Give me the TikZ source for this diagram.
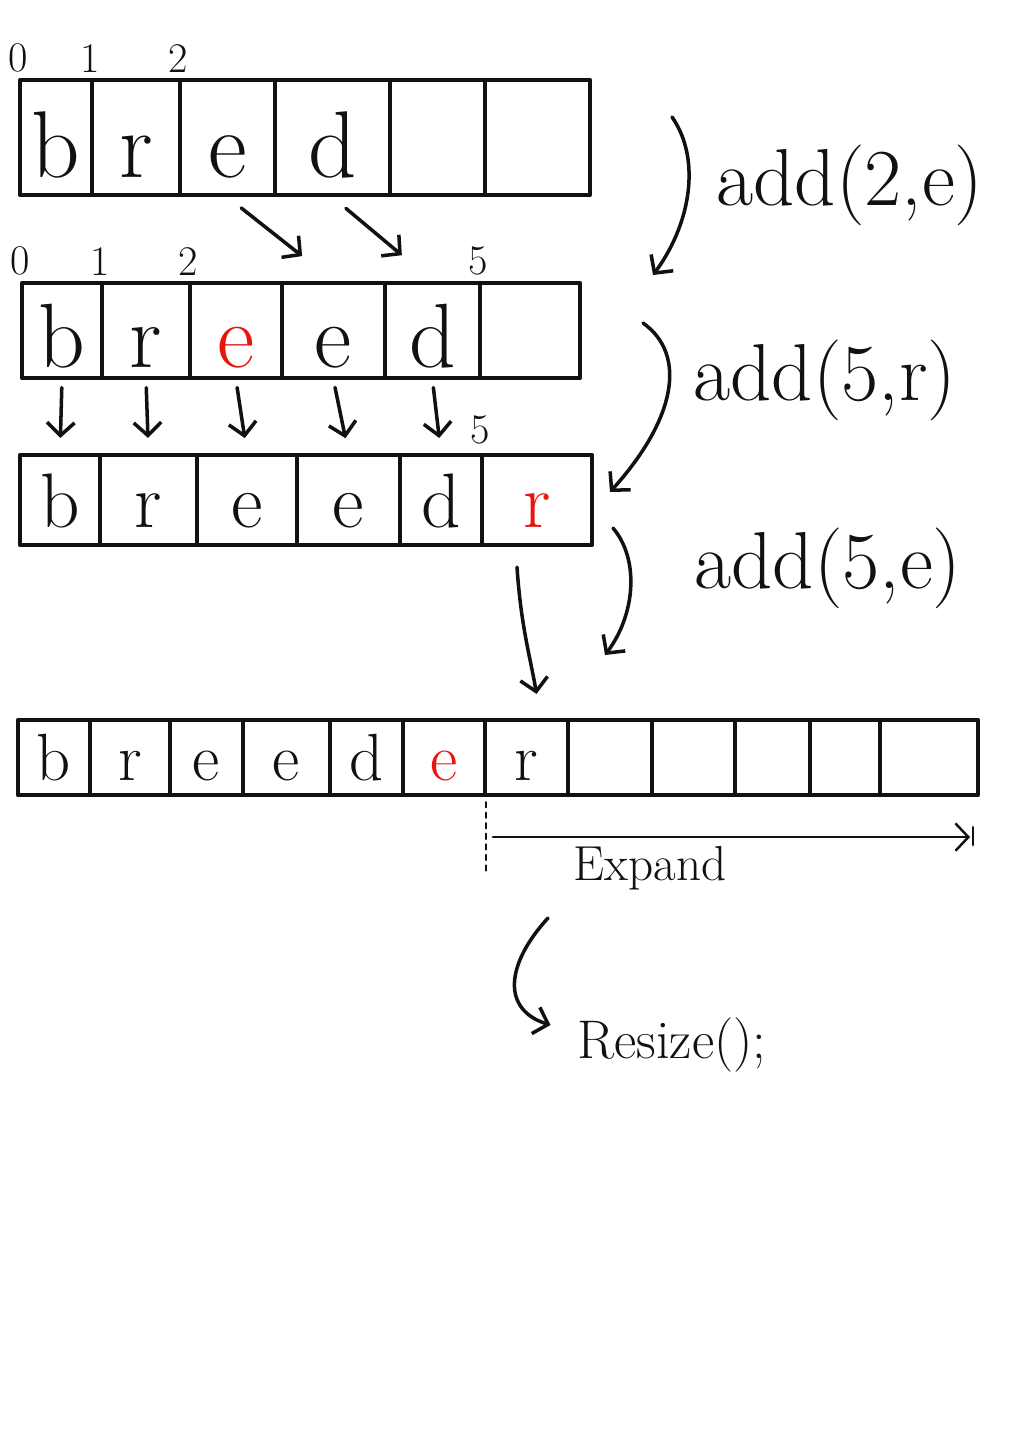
\documentclass[tikz,border=0pt]{standalone}
\usepackage{fontspec}
\usetikzlibrary{calc,positioning,arrows.meta}
\definecolor{papel}{HTML}{FFFFFF}
\definecolor{tinta}{HTML}{111111}
\definecolor{vermelho}{HTML}{E8150E}

\begin{document}
\begin{tikzpicture}[x=0.02cm,y=-0.02cm, line cap=round, line join=round,
    cel/.style={draw=tinta, line width=2.4pt, inner sep=0pt, text=tinta, text depth=0pt},
    lin1/.style={cel, minimum height=2.3cm, text height=1.6cm, font=\fontsize{54}{56}\selectfont},
    lin2/.style={cel, minimum height=1.9cm, text height=1.5cm, font=\fontsize{52}{54}\selectfont},
    lin3/.style={cel, minimum height=1.8cm, text height=1.1cm, font=\fontsize{44}{46}\selectfont},
    lin4/.style={cel, minimum height=1.5cm, text height=0.92cm, font=\fontsize{38}{40}\selectfont},
    novo/.style={text=vermelho},
    idx/.style={font=\fontsize{24}{26}\selectfont, text=tinta, inner sep=1pt},
    op/.style={font=\fontsize{46}{48}\selectfont, text=tinta, inner sep=1pt},
    nota/.style={font=\fontsize{28}{30}\selectfont, text=tinta, inner sep=1pt},
    ar/.style={-{Straight Barb[length=2.6mm,width=5.5mm]}, line width=2pt, tinta}]
  \fill[papel] (0,0) rectangle (1019,1440);
  \useasboundingbox (0,0) rectangle (1019,1440);
  % bred
  \node[lin1, minimum width=1.44cm] (a1c0) at (56,137.5) {b};
  \node[lin1, minimum width=1.76cm] (a1c1) at (136,137.5) {r};
  \node[lin1, minimum width=1.90cm] (a1c2) at (227.5,137.5) {e};
  \node[lin1, minimum width=2.30cm] (a1c3) at (332.5,137.5) {d};
  \node[lin1, minimum width=1.90cm] (a1c4) at (437.5,137.5) {};
  \node[lin1, minimum width=2.10cm] (a1c5) at (537.5,137.5) {};
  \node[idx, above=2pt of a1c0.north west] (i10) {0};
  \node[idx, above=2pt of a1c1.north west] (i11) {1};
  \node[idx, above=2pt of a1c2.north west] (i12) {2};
  % breed
  \node[lin2, minimum width=1.60cm] (a2c0) at (62,330.5) {b};
  \node[lin2, minimum width=1.76cm] (a2c1) at (146,330.5) {r};
  \node[lin2, novo, minimum width=1.84cm] (a2c2) at (236,330.5) {e};
  \node[lin2, minimum width=2.06cm] (a2c3) at (333.5,330.5) {e};
  \node[lin2, minimum width=1.90cm] (a2c4) at (432.5,330.5) {d};
  \node[lin2, minimum width=2.00cm] (a2c5) at (530,330.5) {};
  \node[idx, above=2pt of a2c0.north west] (i20) {0};
  \node[idx, above=2pt of a2c1.north west] (i21) {1};
  \node[idx, above=2pt of a2c2.north west] (i22) {2};
  \node[idx, above=2pt of a2c5.north west] (i25) {5};
  % breedr
  \node[lin3, minimum width=1.60cm] (a3c0) at (60,500) {b};
  \node[lin3, minimum width=1.94cm] (a3c1) at (148.5,500) {r};
  \node[lin3, minimum width=2.00cm] (a3c2) at (247,500) {e};
  \node[lin3, minimum width=2.06cm] (a3c3) at (348.5,500) {e};
  \node[lin3, minimum width=1.64cm] (a3c4) at (441,500) {d};
  \node[lin3, novo, minimum width=2.20cm] (a3c5) at (537,500) {r};
  \node[idx, above=4pt of a3c5.north west] (i35) {5};
  % breeder + empty cells
  \node[lin4, minimum width=1.44cm] (a4c0) at (54,757.5) {b};
  \node[lin4, minimum width=1.60cm] (a4c1) at (130,757.5) {r};
  \node[lin4, minimum width=1.46cm] (a4c2) at (206.5,757.5) {e};
  \node[lin4, minimum width=1.74cm] (a4c3) at (286.5,757.5) {e};
  \node[lin4, minimum width=1.46cm] (a4c4) at (366.5,757.5) {d};
  \node[lin4, novo, minimum width=1.64cm] (a4c5) at (444,757.5) {e};
  \node[lin4, minimum width=1.66cm] (a4c6) at (526.5,757.5) {r};
  \node[lin4, minimum width=1.68cm] (a4c7) at (610,757.5) {};
  \node[lin4, minimum width=1.66cm] (a4c8) at (693.5,757.5) {};
  \node[lin4, minimum width=1.50cm] (a4c9) at (772.5,757.5) {};
  \node[lin4, minimum width=1.40cm] (a4c10) at (845,757.5) {};
  \node[lin4, minimum width=1.96cm] (a4c11) at (929,757.5) {};
  % shifts
  \draw[ar, shorten <=0.35cm, shorten >=0.8cm] (a1c2.south) -- (a2c3.north);
  \draw[ar, shorten <=0.35cm, shorten >=0.8cm] (a1c3.south) -- (a2c4.north);
  \foreach \i in {0,...,4}{\draw[ar, shorten <=0.15cm, shorten >=0.3cm] (a2c\i.south) -- (a3c\i.north);}
  \draw[ar] ($(a3c5.south)+(-20,20)$) .. controls ($(a3c5.south)+(-16,80)$) and ($(a4c6.north)+(4,-60)$) .. ($(a4c6.north)+(10,-24)$);
  % operations
  \node[op] (op1) at (850,185) {add(2,e)};
  \node[op] (op2) at (825,380) {add(5,r)};
  \node[op] (op3) at (828,568) {add(5,e)};
  \coordinate (s1) at (672,117);
  \coordinate (t1) at (653,275);
  \coordinate (s2) at (643,323);
  \coordinate (t2) at (610,492);
  \coordinate (s3) at (613,528);
  \coordinate (t3) at (605,655);
  \draw[ar] (s1) .. controls (702,160) and (690,225) .. (t1);
  \draw[ar] (s2) .. controls (688,355) and (675,420) .. (t2);
  \draw[ar] (s3) .. controls (640,560) and (635,615) .. (t3);
  % expand
  \draw[tinta, line width=1.2pt, dashed] ($(a4c6.south west)+(3,5)$) -- ++(0,70);
  \draw[ar, line width=1.4pt] ($(a4c6.south west)+(10,40)$) -- ($(a4c11.south east)+(-10,40)$);
  \draw[tinta, line width=1.4pt] ($(a4c11.south east)+(-7,30)$) -- ++(0,18);
  \node[nota] (lexp) at (650,868) {Expand};
  \node[nota, font=\fontsize{31}{33}\selectfont] (resize) at (672,1045) {Resize();};
  \coordinate (r0) at (548,918);
  \draw[ar] (r0) .. controls (505,965) and (502,1010) .. ($(resize.west)+(-25,-20)$);
\end{tikzpicture}
\end{document}
